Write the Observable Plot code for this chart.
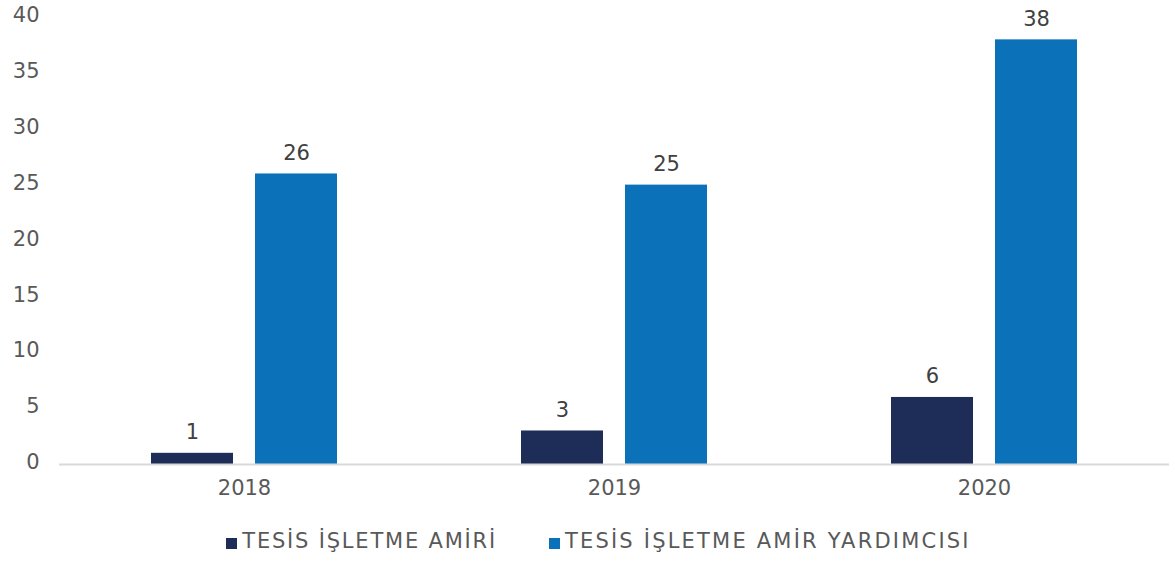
<!DOCTYPE html>
<html>
<head>
<meta charset="utf-8">
<script src="https://cdn.jsdelivr.net/npm/d3@7"></script>
<script src="https://cdn.jsdelivr.net/npm/@observablehq/plot@0.6"></script>
<style>
  html, body { margin: 0; padding: 0; background: #fff; }
  body { width: 1175px; height: 563px; overflow: hidden; font-family: "DejaVu Sans", sans-serif; }
  #legend { display: flex; justify-content: center; align-items: center; gap: 52px; height: 53px; margin-top: 4px; font-size: 21px; letter-spacing: 1.8px; color: #595959; padding-left: 22px; }
  #legend .item { display: flex; align-items: center; }
  #legend .item:last-child span { letter-spacing: 2.2px; }
  #legend .sw { width: 11px; height: 11px; margin-right: 5px; margin-top: 5px; }
</style>
</head>
<body>
<div id="chart"></div>
<div id="legend"></div>
<script>
const years = ["2018", "2019", "2020"];
const seriesNames = ["TESİS İŞLETME AMİRİ", "TESİS İŞLETME AMİR YARDIMCISI"];
const amiri = [1, 3, 6];
const yardimcisi = [26, 25, 38];
const colors = ["#1E2C58", "#0B72BA"];
const yTicks = [0, 5, 10, 15, 20, 25, 30, 35, 40];

const data = [];
years.forEach((y, i) => {
  data.push({year: y, series: seriesNames[0], value: amiri[i]});
  data.push({year: y, series: seriesNames[1], value: yardimcisi[i]});
});

const chart = Plot.plot({
  width: 1175,
  height: 510,
  marginTop: 17,
  marginBottom: 46,
  marginLeft: 58,
  marginRight: 5,
  style: {fontFamily: "'DejaVu Sans', sans-serif", fontSize: "21px", color: "#595959"},
  fx: {domain: years, padding: 0, label: null, axis: null},
  x: {domain: seriesNames, paddingInner: 0.21, paddingOuter: 0.867, axis: null},
  y: {domain: [0, 40], ticks: yTicks, label: null, axis: null},
  color: {domain: seriesNames, range: colors},
  marks: [
    Plot.axisY({ticks: yTicks, tickSize: 0, tickPadding: 20, label: null, fontSize: 21, fill: "#595959", dy: -2}),
    Plot.axisFx({anchor: "bottom", tickSize: 0, tickPadding: 16, label: null, fontSize: 21, fill: "#595959"}),
    Plot.barY(data, {fx: "year", x: "series", y: "value", fill: "series"}),
    Plot.ruleY([0], {stroke: "#d9d9d9", strokeWidth: 2}),
    Plot.text(data, {fx: "year", x: "series", y: "value", text: d => String(d.value), lineAnchor: "bottom", dy: -14, fontSize: 21, fill: "#404040"})
  ]
});
document.getElementById("chart").appendChild(chart);

const legend = document.getElementById("legend");
seriesNames.forEach((s, i) => {
  const item = document.createElement("div");
  item.className = "item";
  const sw = document.createElement("div");
  sw.className = "sw";
  sw.style.background = colors[i];
  const t = document.createElement("span");
  t.textContent = s;
  item.appendChild(sw);
  item.appendChild(t);
  legend.appendChild(item);
});
</script>
</body>
</html>
